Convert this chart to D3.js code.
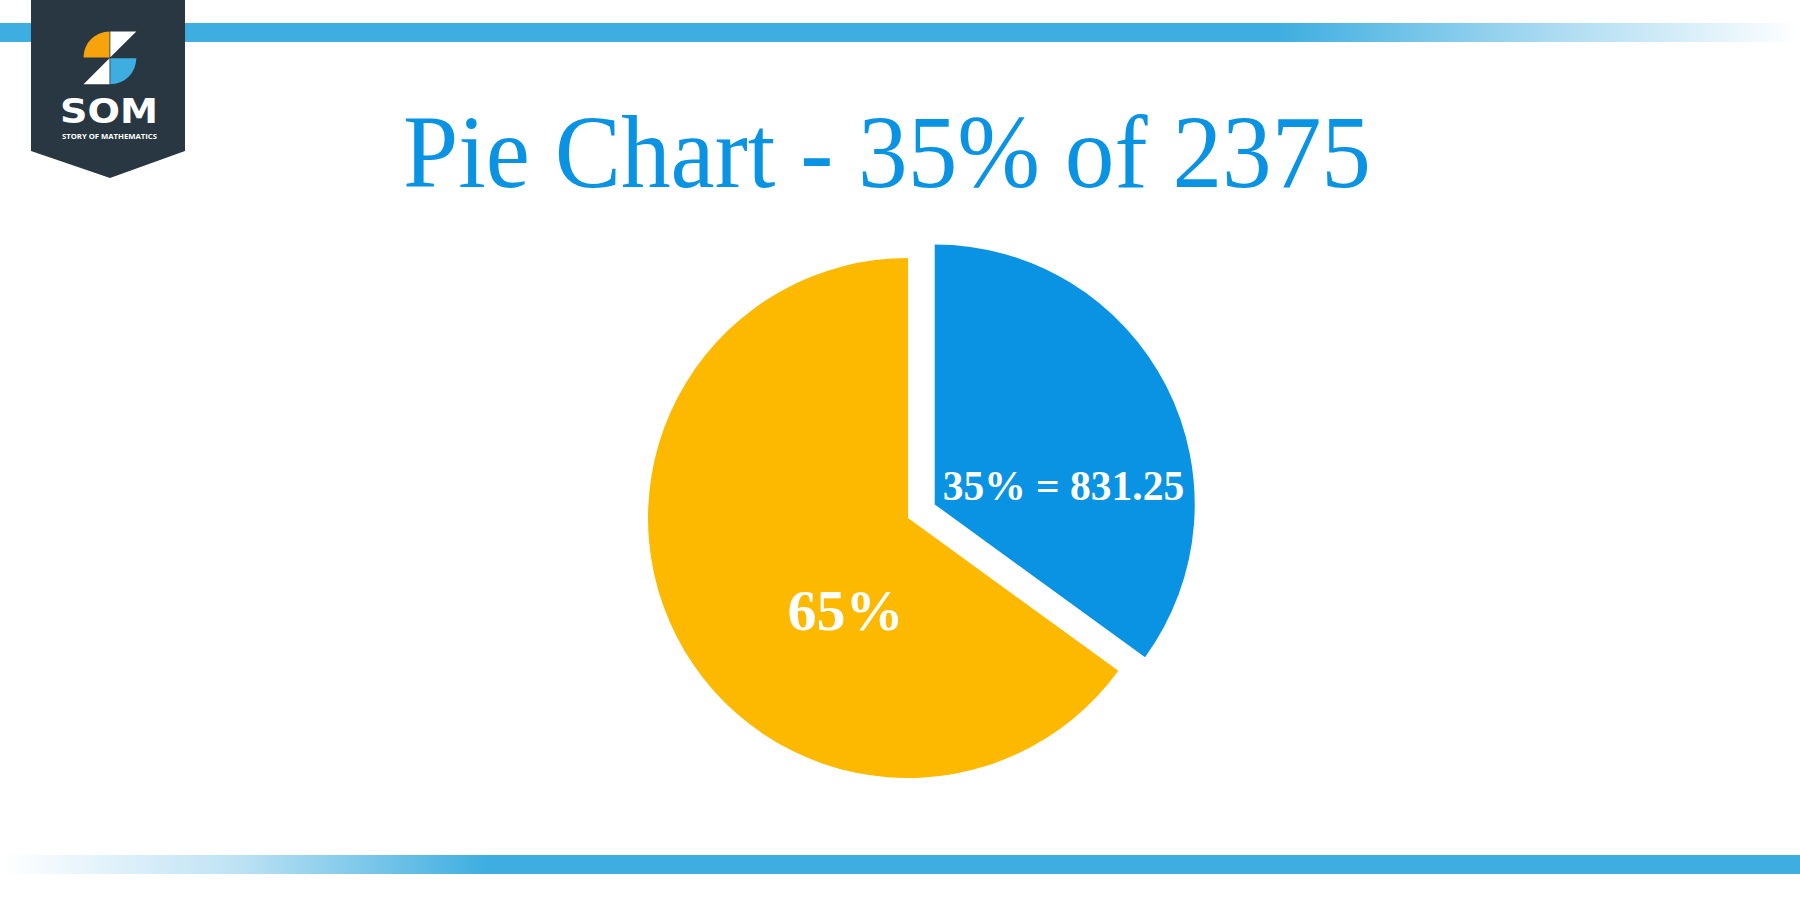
<!DOCTYPE html>
<html>
<head>
<meta charset="utf-8">
<script src="https://cdn.jsdelivr.net/npm/d3@7"></script>
<style>
  html, body { margin: 0; padding: 0; background: #ffffff; }
  svg { display: block; }
</style>
</head>
<body>
<svg id="chart" width="1800" height="900"></svg>
<script>
// ---- data ----
const titleText = "Pie Chart - 35% of 2375";
const categories = ["35%", "65%"];
const values = [35, 65];
const labels = ["35% = 831.25", "65%"];
const sliceColors = ["#0a93e2", "#fdb900"];
const explode = [30, 0];

const W = 1800, H = 900;
const svg = d3.select("#chart");
const defs = svg.append("defs");

// ---- bars ----
const gTop = defs.append("linearGradient").attr("id", "gTop").attr("x1", "0").attr("x2", "1").attr("y1", "0").attr("y2", "0");
gTop.append("stop").attr("offset", "0").attr("stop-color", "#3eaee0");
gTop.append("stop").attr("offset", "0.71").attr("stop-color", "#3eaee0");
gTop.append("stop").attr("offset", "0.86").attr("stop-color", "#a9daf1");
gTop.append("stop").attr("offset", "1").attr("stop-color", "#ffffff");
const gBot = defs.append("linearGradient").attr("id", "gBot").attr("x1", "0").attr("x2", "1").attr("y1", "0").attr("y2", "0");
gBot.append("stop").attr("offset", "0").attr("stop-color", "#ffffff");
gBot.append("stop").attr("offset", "0.13").attr("stop-color", "#bfe3f4");
gBot.append("stop").attr("offset", "0.27").attr("stop-color", "#3eaee0");
gBot.append("stop").attr("offset", "1").attr("stop-color", "#3eaee0");

svg.append("rect").attr("x", 0).attr("y", 23).attr("width", W).attr("height", 19).attr("fill", "url(#gTop)");
svg.append("rect").attr("x", 0).attr("y", 855).attr("width", W).attr("height", 19).attr("fill", "url(#gBot)");

// ---- logo ----
const logo = svg.append("g");
logo.append("path").attr("d", "M31,0 H185 V151 L110,178 L31,151 Z").attr("fill", "#283742");
const lc = [109.5, 57.5], lr = 26;
const qArc = d3.arc().innerRadius(0).outerRadius(lr);
logo.append("path").attr("transform", `translate(${lc[0]},${lc[1]})`)
  .attr("d", qArc({startAngle: -Math.PI / 2, endAngle: 0})).attr("fill", "#f7a30c");
logo.append("path").attr("transform", `translate(${lc[0] + 0.8},${lc[1] + 0.8})`)
  .attr("d", qArc({startAngle: Math.PI / 2, endAngle: Math.PI})).attr("fill", "#3eaee0");
logo.append("path").attr("d", `M${lc[0] + 0.8},${lc[1] - lr} H${lc[0] + lr + 0.8} L${lc[0] + 0.8},${lc[1] - 0.2} Z`).attr("fill", "#ffffff");
logo.append("path").attr("d", `M${lc[0]},${lc[1] + 0.8} V${lc[1] + lr + 0.8} H${lc[0] - lr} Z`).attr("fill", "#ffffff");
logo.append("text").attr("x", 109).attr("y", 123).attr("text-anchor", "middle")
  .attr("font-family", "'DejaVu Sans', sans-serif").attr("font-weight", 700).attr("font-size", 34)
  .attr("fill", "#ffffff").attr("textLength", 98).attr("lengthAdjust", "spacingAndGlyphs").text("SOM");
logo.append("text").attr("x", 109.5).attr("y", 138.5).attr("text-anchor", "middle")
  .attr("font-family", "'Open Sans', sans-serif").attr("font-weight", 700).attr("font-size", 7.3)
  .attr("fill", "#ffffff").attr("textLength", 95).attr("lengthAdjust", "spacingAndGlyphs").text("STORY OF MATHEMATICS");

// ---- title ----
svg.append("text").attr("x", 887).attr("y", 187).attr("text-anchor", "middle")
  .style("font-family", "'Liberation Serif', 'Times New Roman', serif").attr("font-size", 104)
  .attr("fill", "#0a93e2").attr("textLength", 968).attr("lengthAdjust", "spacingAndGlyphs")
  .text(titleText);

// ---- pie ----
const cx = 908, cy = 518, R = 260;
const pie = d3.pie().sort(null).value(d => d.value);
const data = categories.map((c, i) => ({cat: c, value: values[i], label: labels[i], color: sliceColors[i], explode: explode[i]}));
const arcs = pie(data);
const arc = d3.arc().innerRadius(0).outerRadius(R);
const g = svg.append("g").attr("transform", `translate(${cx},${cy})`);

const offset = d => {
  const a = (d.startAngle + d.endAngle) / 2;
  return [Math.sin(a) * d.data.explode, -Math.cos(a) * d.data.explode];
};

g.selectAll("path.slice").data(arcs).join("path")
  .attr("class", "slice")
  .attr("transform", d => { const o = offset(d); return `translate(${o[0]},${o[1]})`; })
  .attr("d", arc)
  .attr("fill", d => d.data.color);

// label placement (angle in degrees clockwise from top, radius fraction of R)
const labelAngle = [82, 214];
const labelRad = [0.5, 0.43];
const labelSize = [41.5, 58];
g.selectAll("text.lbl").data(arcs).join("text")
  .attr("class", "lbl")
  .attr("x", (d, i) => offset(d)[0] + Math.sin(labelAngle[i] * Math.PI / 180) * labelRad[i] * R)
  .attr("y", (d, i) => offset(d)[1] - Math.cos(labelAngle[i] * Math.PI / 180) * labelRad[i] * R)
  .attr("dy", (d, i) => labelSize[i] * 0.33)
  .attr("text-anchor", "middle")
  .style("font-family", "'Liberation Serif', 'Times New Roman', serif")
  .attr("font-weight", 700)
  .attr("font-size", (d, i) => labelSize[i])
  .attr("fill", "#ffffff")
  .text(d => d.data.label);
</script>
</body>
</html>
